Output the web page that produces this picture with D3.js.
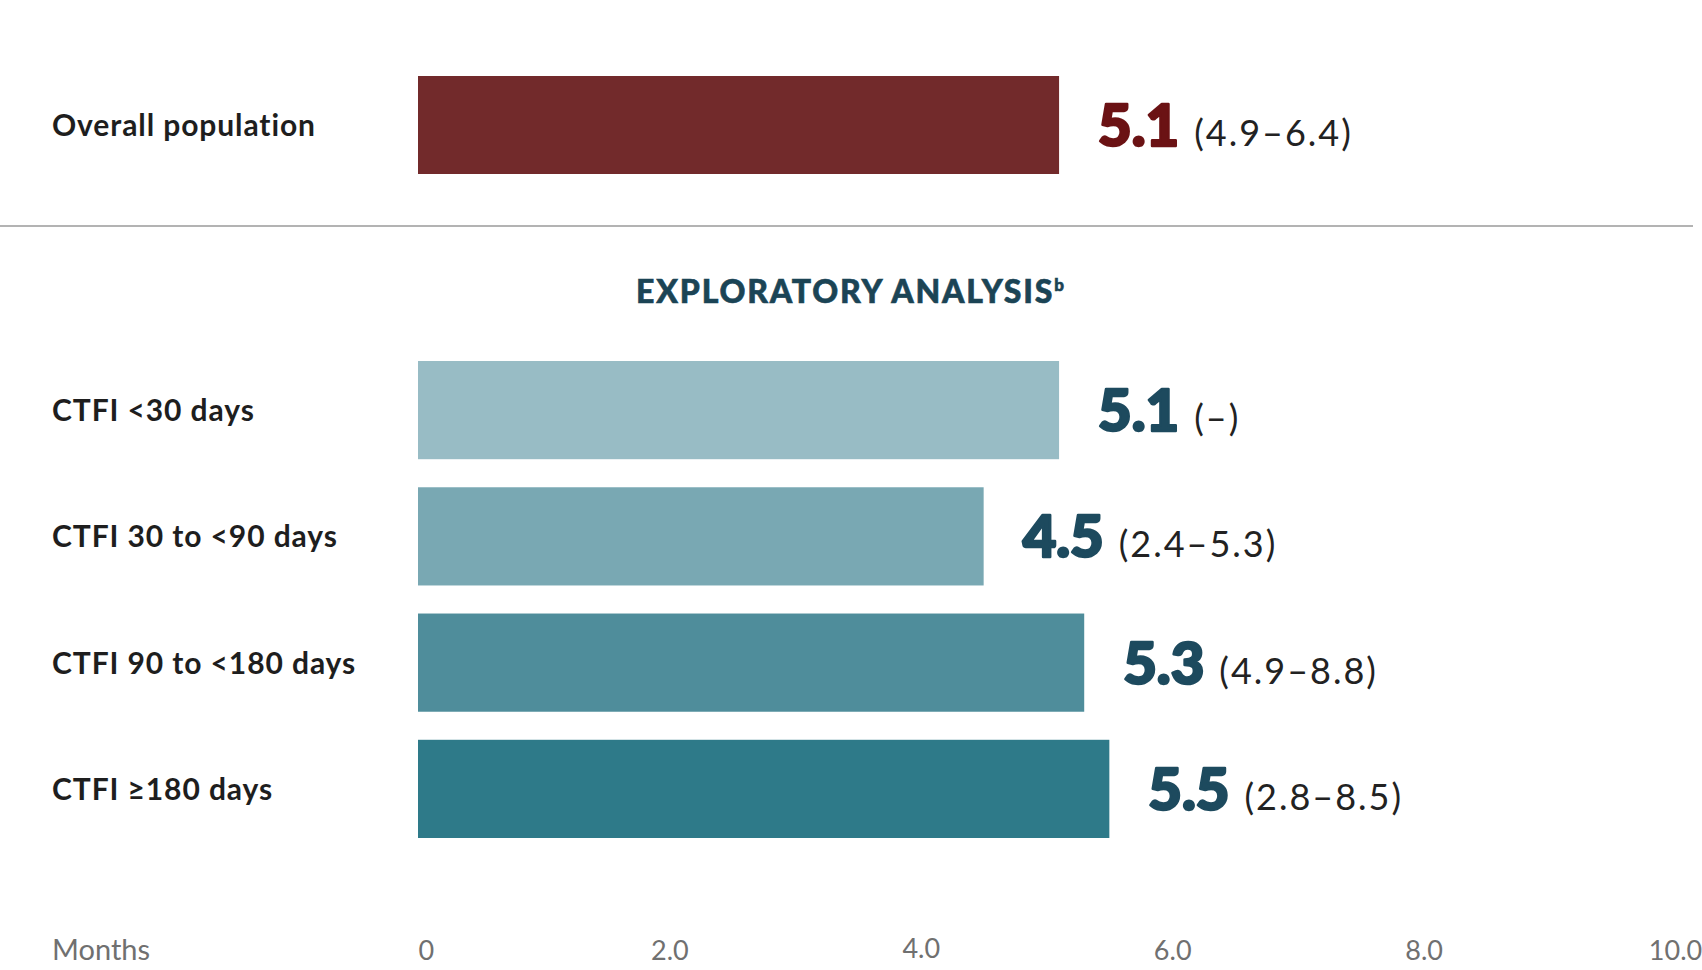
<!DOCTYPE html>
<html>
<head>
<meta charset="utf-8">
<script src="https://cdn.jsdelivr.net/npm/d3@7"></script>
<style>
  html, body { margin: 0; padding: 0; background: #fff; }
  svg { display: block; }
  text { font-family: Lato, "Open Sans", sans-serif; font-variant-ligatures: none; font-feature-settings: "liga" 0; }
</style>
</head>
<body>
<script>
// ---- data ----
const overallCategories = ["Overall population"];
const overallValues = [5.1];
const overallCI = ["(4.9–6.4)"];

const subgroupCategories = ["CTFI <30 days", "CTFI 30 to <90 days", "CTFI 90 to <180 days", "CTFI ≥180 days"];
const subgroupValues = [5.1, 4.5, 5.3, 5.5];
const subgroupCI = ["(–)", "(2.4–5.3)", "(4.9–8.8)", "(2.8–8.5)"];

const tickValues = [0, 2, 4, 6, 8, 10];
const tickLabels = ["0", "2.0", "4.0", "6.0", "8.0", "10.0"];
const axisTitle = "Months";
const sectionTitle = "EXPLORATORY ANALYSIS";
const sectionTitleSup = "b";

// ---- styles ----
const W = 1702, H = 970;
const overallColor = "#722a2b";
const overallLabelColor = "#6b1214";
const subgroupColors = ["#98bcc5", "#79a8b3", "#4f8d9b", "#2e7a89"];
const subgroupLabelColor = "#1d4a5e";

const svg = d3.select("body").append("svg").attr("width", W).attr("height", H);

const x = d3.scaleLinear().domain([0, 10]).range([418, 1675]);

const yOverall = d3.scaleBand().domain(overallCategories).range([76, 174]).padding(0);
const ySub = d3.scaleBand().domain(subgroupCategories).range([361, 838]).paddingInner(0.2222).paddingOuter(0);

function drawGroup(cats, vals, cis, yScale, colors, labelColor) {
  const g = svg.append("g");
  const rows = g.selectAll("g.row").data(cats.map((c, i) => ({c, v: vals[i], ci: cis[i], i})))
    .join("g").attr("class", "row");

  rows.append("rect")
    .attr("x", x(0))
    .attr("y", d => yScale(d.c))
    .attr("width", d => x(d.v) - x(0))
    .attr("height", yScale.bandwidth())
    .attr("fill", d => colors[d.i % colors.length]);

  rows.append("text")
    .attr("x", 52)
    .attr("y", d => yScale(d.c) + yScale.bandwidth() / 2 + 11)
    .attr("font-size", 30)
    .attr("font-weight", 700)
    .attr("letter-spacing", 0.9)
    .attr("fill", "#1e1e1e")
    .text(d => d.c);

  const vt = rows.append("text")
    .attr("x", d => x(d.v) + 39)
    .attr("y", d => yScale(d.c) + yScale.bandwidth() / 2 + 21);
  vt.append("tspan")
    .attr("font-size", 58)
    .attr("font-weight", 900)
    .attr("letter-spacing", 0)
    .attr("fill", labelColor)
    .attr("stroke", labelColor)
    .attr("stroke-width", 2.6)
    .attr("stroke-linejoin", "round")
    .text(d => d.v.toFixed(1));
  vt.append("tspan")
    .attr("dx", 15)
    .attr("font-size", 36)
    .attr("font-weight", 400)
    .attr("letter-spacing", 2)
    .attr("fill", "#222")
    .text(d => d.ci);
}

drawGroup(overallCategories, overallValues, overallCI, yOverall, [overallColor], overallLabelColor);

// separator
svg.append("line")
  .attr("x1", 0).attr("x2", 1693)
  .attr("y1", 226).attr("y2", 226)
  .attr("stroke", "#9a9a9a").attr("stroke-width", 1.5);

// section title
const title = svg.append("text")
  .attr("x", 850).attr("y", 303)
  .attr("text-anchor", "middle")
  .attr("fill", "#1b4455")
  .attr("font-size", 32)
  .attr("font-weight", 900)
  .attr("letter-spacing", 1.8)
  .attr("stroke", "#1b4455")
  .attr("stroke-width", 0.6);
title.append("tspan").text(sectionTitle);
title.append("tspan").attr("font-size", 17).attr("dy", -12).attr("letter-spacing", 0).text(sectionTitleSup);

drawGroup(subgroupCategories, subgroupValues, subgroupCI, ySub, subgroupColors, subgroupLabelColor);

// axis
const axisG = svg.append("g").attr("transform", "translate(0,960)");
const axis = d3.axisBottom(x).tickValues(tickValues).tickFormat((d, i) => tickLabels[i]).tickSize(0).tickPadding(0);
axisG.call(axis);
axisG.select(".domain").remove();
axisG.selectAll(".tick text")
  .attr("y", d => d === 4 ? -2 : 0).attr("dy", 0)
  .attr("font-family", "Lato, sans-serif")
  .attr("font-size", 27)
  .attr("font-weight", 400)
  .attr("fill", "#707070")
  .attr("text-anchor", d => d === 0 ? "start" : "middle");

svg.append("text")
  .attr("x", 52).attr("y", 960)
  .attr("font-size", 29)
  .attr("fill", "#707070")
  .text(axisTitle);
</script>
</body>
</html>
